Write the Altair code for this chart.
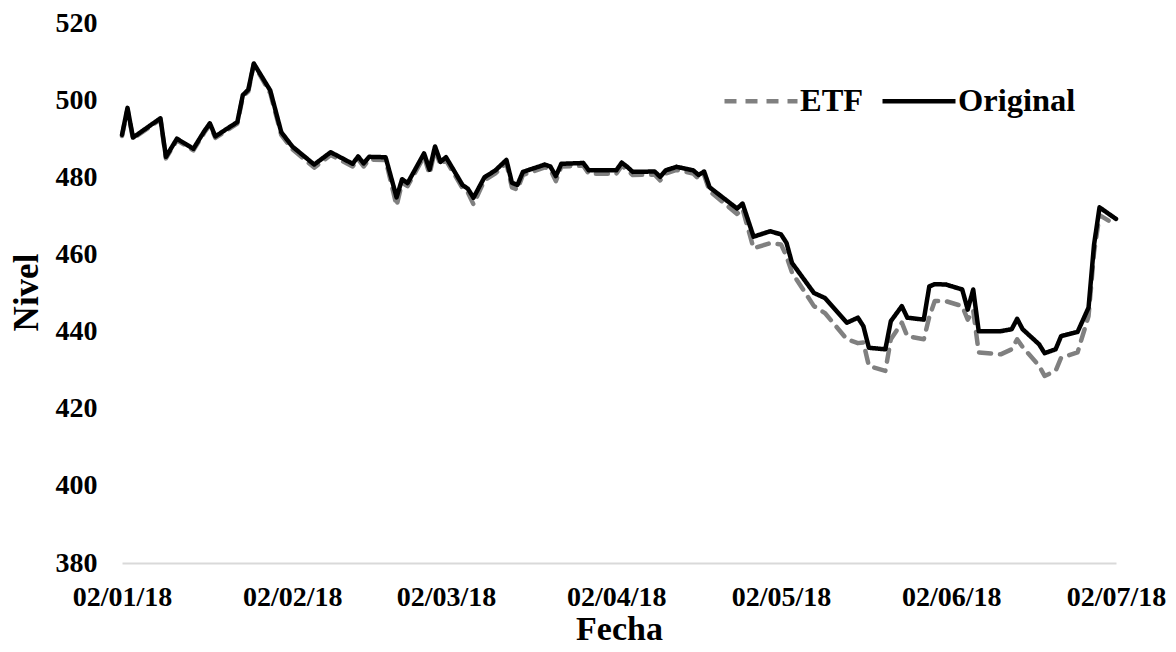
import altair as alt
import pandas as pd

dates = [
    "2018-01-02", "2018-01-03", "2018-01-04", "2018-01-09", "2018-01-10", "2018-01-12",
    "2018-01-15", "2018-01-17", "2018-01-18", "2018-01-19", "2018-01-22", "2018-01-23",
    "2018-01-24", "2018-01-25", "2018-01-26", "2018-01-29", "2018-01-31", "2018-02-02",
    "2018-02-06", "2018-02-09", "2018-02-13", "2018-02-14", "2018-02-15", "2018-02-16",
    "2018-02-19", "2018-02-21", "2018-02-22", "2018-02-23", "2018-02-26", "2018-02-27",
    "2018-02-28", "2018-03-01", "2018-03-02", "2018-03-05", "2018-03-06", "2018-03-07",
    "2018-03-09", "2018-03-11", "2018-03-13", "2018-03-14", "2018-03-15", "2018-03-16",
    "2018-03-20", "2018-03-21", "2018-03-22", "2018-03-23", "2018-03-27", "2018-03-28",
    "2018-04-02", "2018-04-03", "2018-04-04", "2018-04-05", "2018-04-09", "2018-04-10",
    "2018-04-11", "2018-04-13", "2018-04-16", "2018-04-17", "2018-04-18", "2018-04-19",
    "2018-04-24", "2018-04-25", "2018-04-27", "2018-04-30", "2018-05-02", "2018-05-03",
    "2018-05-04", "2018-05-08", "2018-05-10", "2018-05-14", "2018-05-16", "2018-05-17",
    "2018-05-18", "2018-05-21", "2018-05-22", "2018-05-24", "2018-05-25", "2018-05-28",
    "2018-05-29", "2018-05-30", "2018-06-01", "2018-06-04", "2018-06-05", "2018-06-06",
    "2018-06-07", "2018-06-11", "2018-06-13", "2018-06-14", "2018-06-15", "2018-06-18",
    "2018-06-19", "2018-06-21", "2018-06-22", "2018-06-25", "2018-06-27", "2018-06-28",
    "2018-06-29", "2018-07-02",
]

original = [
    491.0, 498.0, 490.3, 495.3, 485.3, 490.0,
    487.4, 492.0, 494.0, 490.6, 493.4, 494.3,
    501.3, 502.7, 509.5, 502.5, 491.7, 488.0,
    483.3, 486.5, 483.5, 485.4, 483.6, 485.3,
    485.2, 474.8, 479.5, 478.5, 486.2, 482.0,
    488.0, 484.0, 485.2, 478.0, 477.0, 474.7,
    480.0, 481.8, 484.5, 478.6, 478.0, 481.4,
    483.3, 482.8, 480.3, 483.5, 483.7, 481.8,
    481.8, 483.8, 482.7, 481.4, 481.5, 480.1,
    481.8, 482.7, 481.8, 480.6, 481.5, 477.4,
    471.9, 473.2, 464.6, 466.0, 465.2, 463.0,
    457.8, 450.0, 448.7, 442.3, 443.6, 441.4,
    435.8, 435.4, 442.7, 446.6, 443.6, 443.1,
    451.7, 452.3, 452.2, 450.9, 445.7, 450.9,
    440.1, 440.1, 440.6, 443.3, 440.6, 436.7,
    434.4, 435.4, 438.8, 439.9, 446.2, 462.5,
    472.2, 469.2,
]

etf = [
    490.7, 497.6, 490.0, 495.0, 484.9, 489.6,
    487.0, 491.6, 493.6, 490.2, 493.0, 493.9,
    500.9, 502.3, 509.3, 501.8, 491.0, 487.3,
    482.5, 485.8, 482.8, 484.7, 482.8, 484.6,
    484.5, 472.6, 478.6, 477.7, 485.4, 480.8,
    487.2, 483.2, 484.4, 477.2, 476.0, 473.0,
    479.2, 481.0, 483.7, 477.4, 476.8, 480.6,
    482.6, 482.0, 479.0, 482.8, 483.0, 480.9,
    480.9, 483.0, 481.9, 480.6, 480.7, 479.2,
    481.0, 481.9, 481.0, 479.6, 480.6, 476.4,
    470.5, 471.8, 461.6, 462.9, 462.6, 459.5,
    455.3, 446.6, 444.8, 438.0, 437.0, 437.2,
    431.1, 429.8, 438.0, 442.3, 438.8, 438.0,
    443.8, 447.9, 447.9, 446.6, 443.1, 445.5,
    434.6, 434.1, 435.4, 438.0, 436.0, 431.1,
    428.5, 429.8, 433.2, 434.6, 444.0, 460.5,
    470.2, 467.6,
]

series_names = ["ETF", "Original"]
series_colors = ["#808080", "#000000"]
series_dashes = [[12, 9], [1, 0]]

y_ticks = [380, 400, 420, 440, 460, 480, 500, 520]
x_tick_dates = [(2018, 1, 2), (2018, 2, 2), (2018, 3, 2), (2018, 4, 2),
                (2018, 5, 2), (2018, 6, 2), (2018, 7, 2)]

rows = []
for d, v in zip(dates, etf):
    rows.append({"Fecha": d, "Serie": "ETF", "Nivel": v})
for d, v in zip(dates, original):
    rows.append({"Fecha": d, "Serie": "Original", "Nivel": v})
df = pd.DataFrame(rows)

FONT = "Liberation Serif"

x_vals = [alt.DateTime(year=y, month=m, date=d, utc=True) for (y, m, d) in x_tick_dates]

legend = alt.Legend(
    title=None,
    orient="none",
    legendX=600,
    legendY=39,
    direction="horizontal",
    symbolType="stroke",
    symbolSize=5329,
    symbolStrokeWidth=4.5,
    labelFont=FONT,
    labelFontSize=32.5,
    labelFontWeight="bold",
    labelColor="#000000",
    labelOffset=0,
    columnPadding=9,
    padding=0,
)

chart = alt.Chart(df).mark_line(
    strokeWidth=4.5, strokeCap="round", strokeJoin="round"
).encode(
    x=alt.X(
        "Fecha:T",
        scale=alt.Scale(type="utc", domain=[x_vals[0], x_vals[-1]], nice=False),
        axis=alt.Axis(
            values=x_vals,
            labelExpr="utcFormat(datum.value, '%d/%m/%y')",
            title="Fecha",
            grid=False,
            ticks=False,
            domainColor="#d9d9d9",
            domainWidth=2,
            labelFont=FONT,
            labelFontSize=28,
            labelFontWeight="bold",
            labelColor="#000000",
            labelPadding=20,
            labelFlush=False,
            labelOverlap=False,
            titleFont=FONT,
            titleFontSize=34,
            titleFontWeight="bold",
            titleColor="#000000",
            titleY=76,
            titleBaseline="alphabetic",
        ),
    ),
    y=alt.Y(
        "Nivel:Q",
        scale=alt.Scale(domain=[380, 520], nice=False, zero=False),
        axis=alt.Axis(
            values=y_ticks,
            title="Nivel",
            grid=False,
            ticks=False,
            domain=False,
            labelFont=FONT,
            labelFontSize=28,
            labelFontWeight="bold",
            labelColor="#000000",
            labelPadding=25,
            titleFont=FONT,
            titleFontSize=35,
            titleFontWeight="bold",
            titleColor="#000000",
            titleX=-85,
            titleY=269,
            titleBaseline="alphabetic",
        ),
    ),
    color=alt.Color(
        "Serie:N",
        scale=alt.Scale(domain=series_names, range=series_colors),
        legend=legend,
    ),
    strokeDash=alt.StrokeDash(
        "Serie:N",
        scale=alt.Scale(domain=series_names, range=series_dashes),
        legend=legend,
    ),
).properties(
    width=994,
    height=540,
    padding={"left": 114, "top": 15, "right": 50, "bottom": 81},
    autosize=alt.AutoSizeParams(type="none"),
).configure_view(stroke=None)

chart.save("out.html", embed_options={"renderer": "svg", "actions": False})
